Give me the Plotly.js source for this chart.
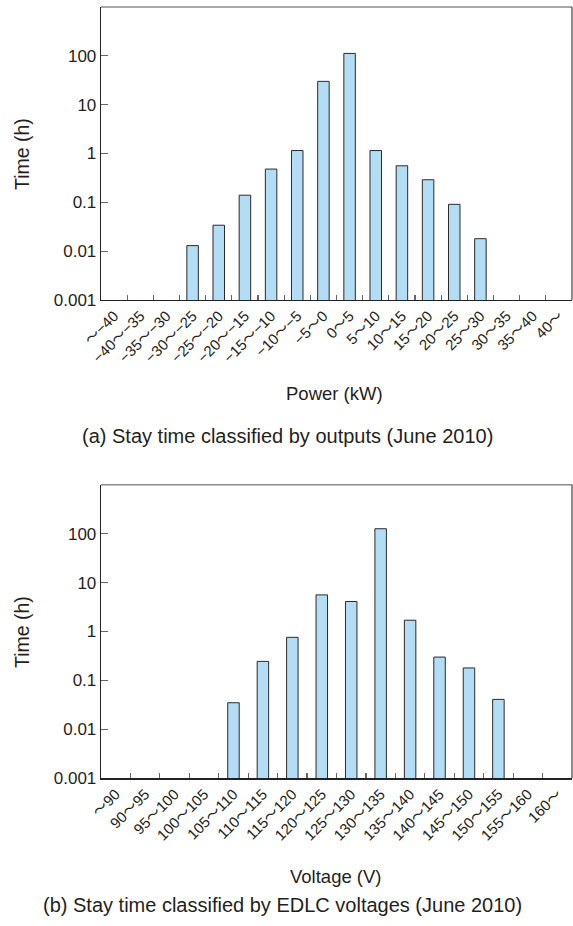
<!DOCTYPE html>
<html>
<head>
<meta charset="utf-8">
<script src="https://cdn.plot.ly/plotly-3.0.1.min.js"></script>
<style>html,body{margin:0;padding:0;background:#fff;}#chart{width:573px;height:926px;}</style>
</head>
<body>
<div id="chart"></div>
<script>
// ---- data ----
const powerCats = ["〜−40","−40〜−35","−35〜−30","−30〜−25","−25〜−20","−20〜−15","−15〜−10","−10〜−5","−5〜0","0〜5","5〜10","10〜15","15〜20","20〜25","25〜30","30〜35","35〜40","40〜"];
const powerHours = [null,null,null,0.013,0.034,0.14,0.48,1.15,30,112,1.15,0.56,0.29,0.091,0.018,null,null,null];
const voltCats = ["〜90","90〜95","95〜100","100〜105","105〜110","110〜115","115〜120","120〜125","125〜130","130〜135","135〜140","140〜145","145〜150","150〜155","155〜160","160〜"];
const voltHours = [null,null,null,null,0.035,0.245,0.76,5.6,4.1,126,1.7,0.30,0.18,0.041,null,null];
const yTickVals = [0.001,0.01,0.1,1,10,100];
const yTickText = ["0.001","0.01","0.1","1","10","100"];
const captionA = "(a) Stay time classified by outputs (June 2010)";
const captionB = "(b) Stay time classified by EDLC voltages (June 2010)";

const FONT = "Liberation Sans, Arial, Helvetica, Noto Sans CJK JP, sans-serif";
const TXT = "#231f20";
const W = 573, H = 926;
const xDom = [101/W, 572/W];
const yDomA = [1-300/H, 1-7/H];
const yDomB = [1-778.3/H, 1-484.7/H];

const barStyle = {color:"#b3ddf4", line:{color:"#2a2a2a", width:1}};

const traces = [
  {type:"bar", x:powerCats, y:powerHours, xaxis:"x", yaxis:"y", marker:barStyle, width:0.44, hoverinfo:"x+y"},
  {type:"bar", x:voltCats, y:voltHours, xaxis:"x2", yaxis:"y2", marker:barStyle, width:0.39, hoverinfo:"x+y"}
];

function xAxis(cats, dom, anchor){
  return {domain:dom, anchor:anchor, type:"category", categoryorder:"array", categoryarray:cats,
    range:[-0.5, cats.length-0.5], tickson:"boundaries", ticks:"inside", ticklen:5, tickwidth:1.2, tickcolor:"#666",
    tickangle:-45, tickfont:{family:FONT, size:15, color:TXT}, showline:true, linecolor:"#222", linewidth:1.3,
    showgrid:false, zeroline:false, fixedrange:true};
}
function yAxis(dom, anchor){
  return {domain:dom, anchor:anchor, type:"log", range:[-3,3], tickvals:yTickVals, ticktext:yTickText,
    ticks:"inside", ticklen:7, tickwidth:1.2, tickcolor:"#666", tickfont:{family:FONT, size:17, color:TXT},
    showline:true, linecolor:"#222", linewidth:1.3, showgrid:false, zeroline:false, fixedrange:true};
}

function box(xr, yr){
  return [
    {type:"line", xref:xr+" domain", yref:yr+" domain", x0:0, x1:1, y0:1, y1:1, line:{color:"#8a8a8a", width:1.6}},
    {type:"line", xref:xr+" domain", yref:yr+" domain", x0:1, x1:1, y0:0, y1:1, line:{color:"#444", width:1.2}}
  ];
}

const ann = (text, x, y, size, angle) => ({text:text, xref:"paper", yref:"paper", x:x/W, y:1-y/H,
  xanchor:"center", yanchor:"middle", showarrow:false, textangle:angle||0, font:{family:FONT, size:size, color:TXT}});

const layout = {
  width:W, height:H, margin:{l:0,r:0,t:0,b:0}, paper_bgcolor:"#fff", plot_bgcolor:"#fff",
  showlegend:false, font:{family:FONT, color:TXT},
  xaxis: xAxis(powerCats, xDom, "y"),
  yaxis: yAxis(yDomA, "x"),
  xaxis2: xAxis(voltCats, xDom, "y2"),
  yaxis2: yAxis(yDomB, "x2"),
  shapes: box("x","y").concat(box("x2","y2")),
  annotations: [
    ann("Time (h)", 22, 154, 19.5, -90),
    ann("Power (kW)", 334, 394, 18.5),
    ann(captionA, 287, 436, 20),
    ann("Time (h)", 22, 632, 19.5, -90),
    ann("Voltage (V)", 336, 876, 18.5),
    ann(captionB, 282, 905, 20)
  ]
};

Plotly.newPlot("chart", traces, layout, {displayModeBar:false, staticPlot:true});
</script>
</body>
</html>
